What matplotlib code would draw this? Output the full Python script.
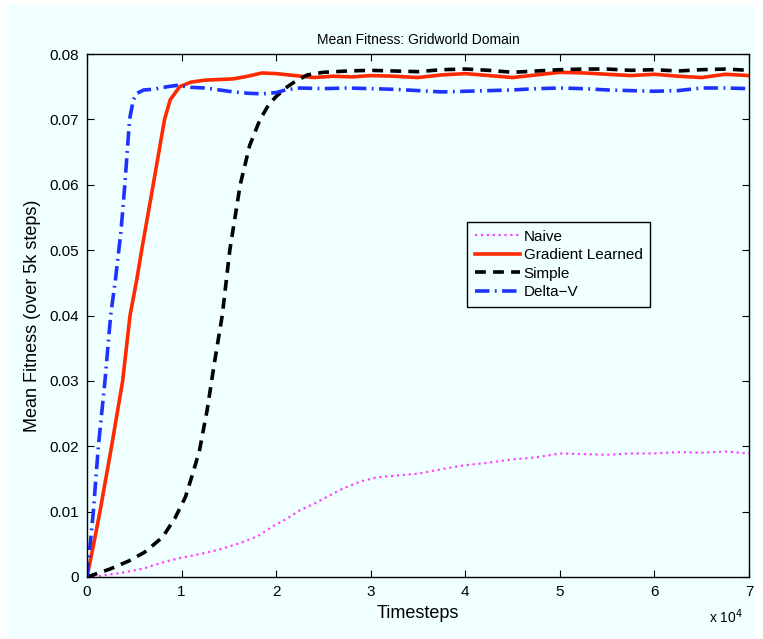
import matplotlib.pyplot as plt
from matplotlib.patches import Rectangle
from matplotlib.ticker import FuncFormatter

plt.rcParams['font.family'] = ['Liberation Sans', 'DejaVu Sans']

bg = '#F0FFFF'

# timesteps / mean fitness
naive_t = [0, 1500, 3500, 6000, 7700, 9500, 11900, 14000, 16200, 18000, 19700, 21000,
           22500, 24000, 25300, 27000, 28900, 30500, 32500, 35000, 37500, 40000, 42500,
           45000, 47500, 50000, 52500, 55000, 57500, 60000, 62500, 65000, 67500, 70000]
naive_f = [0, 0.0002, 0.0006, 0.0013, 0.0021, 0.0028, 0.0035, 0.0042, 0.0052, 0.0062,
           0.0078, 0.0088, 0.0102, 0.0112, 0.0122, 0.0135, 0.0146, 0.0152, 0.0155, 0.0158,
           0.0165, 0.0171, 0.0175, 0.0180, 0.0183, 0.0189, 0.0188, 0.0187, 0.0189, 0.0189,
           0.0191, 0.0190, 0.0192, 0.0189]

grad_t = [0, 700, 1370, 2600, 3770, 4550, 5250, 5900, 7000, 8200, 8800, 9800, 11000, 12500,
          14000, 15500, 17000, 18500, 20000, 22000, 24000, 26000, 28000, 30000, 32500,
          35000, 37500, 40000, 42500, 45000, 47500, 50000, 52500, 55000, 57500, 60000,
          62500, 65000, 67500, 70000]
grad_f = [0, 0.005, 0.010, 0.020, 0.030, 0.040, 0.0454, 0.051, 0.060, 0.070, 0.073, 0.0750,
          0.0757, 0.0760, 0.0761, 0.0762, 0.0766, 0.0771, 0.0770, 0.0767, 0.0764, 0.0766,
          0.0765, 0.0767, 0.0766, 0.0764, 0.0768, 0.0770, 0.0767, 0.0764, 0.0768, 0.0772,
          0.0771, 0.0769, 0.0767, 0.0769, 0.0766, 0.0764, 0.0769, 0.0767]

simple_t = [0, 600, 2400, 4500, 6100, 8000, 9300, 10400, 11200, 11900, 12700, 13500,
            14300, 15100, 16200, 17200, 18300, 19200, 20000, 21000, 21800, 23300, 25000,
            27500, 30000, 32500, 35000, 37500, 40000, 42500, 45000, 47500, 50000, 52500,
            55000, 57500, 60000, 62500, 65000, 67500, 70000]
simple_f = [0, 0.0003, 0.0012, 0.0025, 0.0038, 0.0061, 0.0090, 0.0122, 0.0159, 0.0194,
            0.0255, 0.0330, 0.0400, 0.0500, 0.0600, 0.0660, 0.0700, 0.0722, 0.0735,
            0.0748, 0.0756, 0.0768, 0.0772, 0.0774, 0.0775, 0.0774, 0.0773, 0.0776,
            0.0777, 0.0775, 0.0772, 0.0774, 0.0776, 0.0777, 0.0777, 0.0775, 0.0776,
            0.0774, 0.0776, 0.0777, 0.0775]

deltav_t = [0, 670, 1200, 1900, 2500, 3000, 3600, 4000, 4500, 4900, 5300, 6000, 7000, 8500,
            9500, 11000, 12500, 14000, 15500, 17000, 18500, 20000, 21000, 22500, 25000,
            27500, 30000, 32500, 35000, 37500, 40000, 42500, 45000, 47500, 50000, 52500,
            55000, 57500, 60000, 62500, 65000, 67500, 70000]
deltav_f = [0, 0.010, 0.020, 0.030, 0.040, 0.0454, 0.053, 0.060, 0.070, 0.073, 0.0740,
            0.0745, 0.0746, 0.0750, 0.0752, 0.0749, 0.0748, 0.0745, 0.0742, 0.0740, 0.0739,
            0.0741, 0.0745, 0.0748, 0.0747, 0.0748, 0.0747, 0.0746, 0.0744, 0.0742,
            0.0743, 0.0744, 0.0745, 0.0747, 0.0748, 0.0747, 0.0745, 0.0744, 0.0743,
            0.0744, 0.0748, 0.0748, 0.0747]

fig = plt.figure(figsize=(7.63, 6.39), dpi=100, facecolor='white')
fig.patches.append(Rectangle((7 / 763, 2 / 639), 749 / 763, 632 / 639,
                             transform=fig.transFigure, facecolor=bg,
                             edgecolor='none', zorder=-10))
ax = fig.add_axes([87 / 763, 62 / 639, 662 / 763, 523 / 639])
ax.set_facecolor(bg)

ax.plot(naive_t, naive_f, color='#FF44FF', linestyle=':', linewidth=1.6, label='Naive')
ax.plot(grad_t, grad_f, color='#FF2A00', linestyle='-', linewidth=2.6, label='Gradient Learned')
ax.plot(simple_t, simple_f, color='black', linestyle='--', linewidth=2.6,
        dashes=(3, 2), label='Simple')
ax.plot(deltav_t, deltav_f, color='#1E32FF', linestyle='-.', linewidth=2.6,
        dashes=(4, 1.5, 0.5, 1.5), label='Delta\u2212V')

ax.set_xlim(0, 70000)
ax.set_ylim(0, 0.08)
ax.set_xticks(range(0, 70001, 10000))
ax.set_yticks([0, 0.01, 0.02, 0.03, 0.04, 0.05, 0.06, 0.07, 0.08])
ax.xaxis.set_major_formatter(FuncFormatter(lambda v, p: '%d' % round(v / 10000)))
ax.yaxis.set_major_formatter(FuncFormatter(lambda v, p: '0' if v == 0 else '%.2f' % v))
ax.tick_params(direction='in', top=True, right=True, length=5, labelsize=11, pad=6)
for s in ax.spines.values():
    s.set_linewidth(1.0)

ax.set_title('Mean Fitness: Gridworld Domain', fontsize=10, pad=7)
ax.set_xlabel('Timesteps', fontsize=13, labelpad=4)
ax.set_ylabel('Mean Fitness (over 5k steps)', fontsize=13, labelpad=6)
ax.text(0.991, -0.076, 'x 10$^4$', transform=ax.transAxes, ha='right', va='center', fontsize=10)

leg = ax.legend(loc='upper left', bbox_to_anchor=(0.574, 0.679), borderaxespad=0,
                fontsize=11, handlelength=3.0, handletextpad=0.2, borderpad=0.5,
                labelspacing=0.3, fancybox=False, framealpha=1, facecolor=bg,
                edgecolor='black')
leg.get_frame().set_linewidth(1.0)

fig.savefig('out.png', dpi=100, facecolor=fig.get_facecolor())
